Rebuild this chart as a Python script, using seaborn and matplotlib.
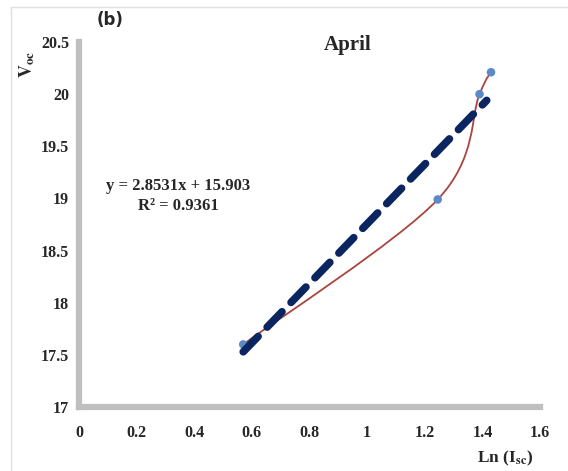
import numpy as np
import pandas as pd
import seaborn as sns
import matplotlib
matplotlib.use("Agg")
import matplotlib.pyplot as plt
from matplotlib.path import Path
from matplotlib.patches import PathPatch
from matplotlib.lines import Line2D

# Data
ln_isc = [0.57, 1.245, 1.39, 1.43]
voc = [17.60, 18.99, 20.00, 20.21]
slope = 2.8531
intercept = 15.903
eq_text = "y = 2.8531x + 15.903"
r2_text = "R² = 0.9361"
x_ticks = [0, 0.2, 0.4, 0.6, 0.8, 1, 1.2, 1.4, 1.6]
y_ticks = [17, 17.5, 18, 18.5, 19, 19.5, 20, 20.5]
x_tick_labels = ["0", "0.2", "0.4", "0.6", "0.8", "1", "1.2", "1.4", "1.6"]
y_tick_labels = ["17", "17.5", "18", "18.5", "19", "19.5", "20", "20.5"]

df = pd.DataFrame({"x": ln_isc, "y": voc})

sns.set_style("white")
fig = plt.figure(figsize=(5.68, 4.71), dpi=100)
ax = fig.add_axes([79/568, 1 - 407/471, (540-79)/568, (407-42)/471])

# Smooth (Excel-like) connecting curve via Bezier segments
pts = np.column_stack([ln_isc, voc])
verts = [tuple(pts[0])]
codes = [Path.MOVETO]
n = len(pts)
for i in range(n - 1):
    p0 = pts[i - 1] if i > 0 else pts[i]
    p1 = pts[i]
    p2 = pts[i + 1]
    p3 = pts[i + 2] if i + 2 < n else pts[i + 1]
    c1 = p1 + (p2 - p0) / 6
    c2 = p2 - (p3 - p1) / 6
    verts += [tuple(c1), tuple(c2), tuple(p2)]
    codes += [Path.CURVE4] * 3
ax.add_patch(PathPatch(Path(verts, codes), facecolor="none", edgecolor="#A9443E", lw=1.3, zorder=2))

sns.scatterplot(data=df, x="x", y="y", ax=ax, color="#5B8BC6", s=38, edgecolor="none", zorder=3)

# Linear trendline
tx = np.array([min(ln_isc), max(ln_isc) - 0.015])
trend = pd.DataFrame({"x": tx, "y": slope * tx + intercept})
sns.lineplot(data=trend, x="x", y="y", ax=ax, color="#0B2560", lw=5.5,
             dashes=False, zorder=4)
ln = ax.lines[-1]
ln.set_dashes([2.8, 1.7])
ln.set_dash_capstyle("round")

ax.set_xlim(0, 1.6)
ax.set_ylim(17, 20.5)
ax.set_xticks(x_ticks)
ax.set_yticks(y_ticks)
serif = "Liberation Serif"
ax.set_xticklabels(x_tick_labels, fontfamily=serif, fontweight="bold", fontsize=11.5)
ax.set_yticklabels(y_tick_labels, fontfamily=serif, fontweight="bold", fontsize=11.5)
ax.tick_params(axis="y", length=0, pad=7)
ax.tick_params(axis="x", length=0, pad=13)
ax.set_xlabel("")
ax.set_ylabel("")

for s in ["top", "right"]:
    ax.spines[s].set_visible(False)
for s in ["left", "bottom"]:
    ax.spines[s].set_color("#BFBFBF")
    ax.spines[s].set_linewidth(4.5)

# Texts
fig.text(348/568, 1 - 45/471, "April", fontfamily=serif, fontweight="bold", fontsize=15, ha="center", va="center")
fig.text(110/568, 1 - 20/471, "(b)", fontfamily="DejaVu Sans", fontweight="bold", fontsize=12, ha="center", va="center")
fig.text(27/568, 1 - 64/471, r"$\mathbf{V_{oc}}$", fontfamily=serif, fontsize=13, rotation=90, ha="center", va="center",
         math_fontfamily="stix")
fig.text(505/568, 1 - 458/471, r"Ln (I$_{\mathbf{sc}}$)", fontfamily=serif, fontweight="bold", fontsize=12.5, ha="center", va="center",
         math_fontfamily="stix")
fig.text(178/568, 1 - 186/471, eq_text, fontfamily=serif, fontweight="bold", fontsize=12, ha="center", va="center")
fig.text(178/568, 1 - 206/471, r2_text, fontfamily=serif, fontweight="bold", fontsize=12, ha="center", va="center")

# Outer light frame (left and top)
fig.add_artist(Line2D([11/568, 11/568], [0, 1 - 7/471], transform=fig.transFigure, color="#E0E0E0", lw=1))
fig.add_artist(Line2D([11/568, 1], [1 - 7/471, 1 - 7/471], transform=fig.transFigure, color="#E0E0E0", lw=1))

fig.savefig("out.png", dpi=100)
